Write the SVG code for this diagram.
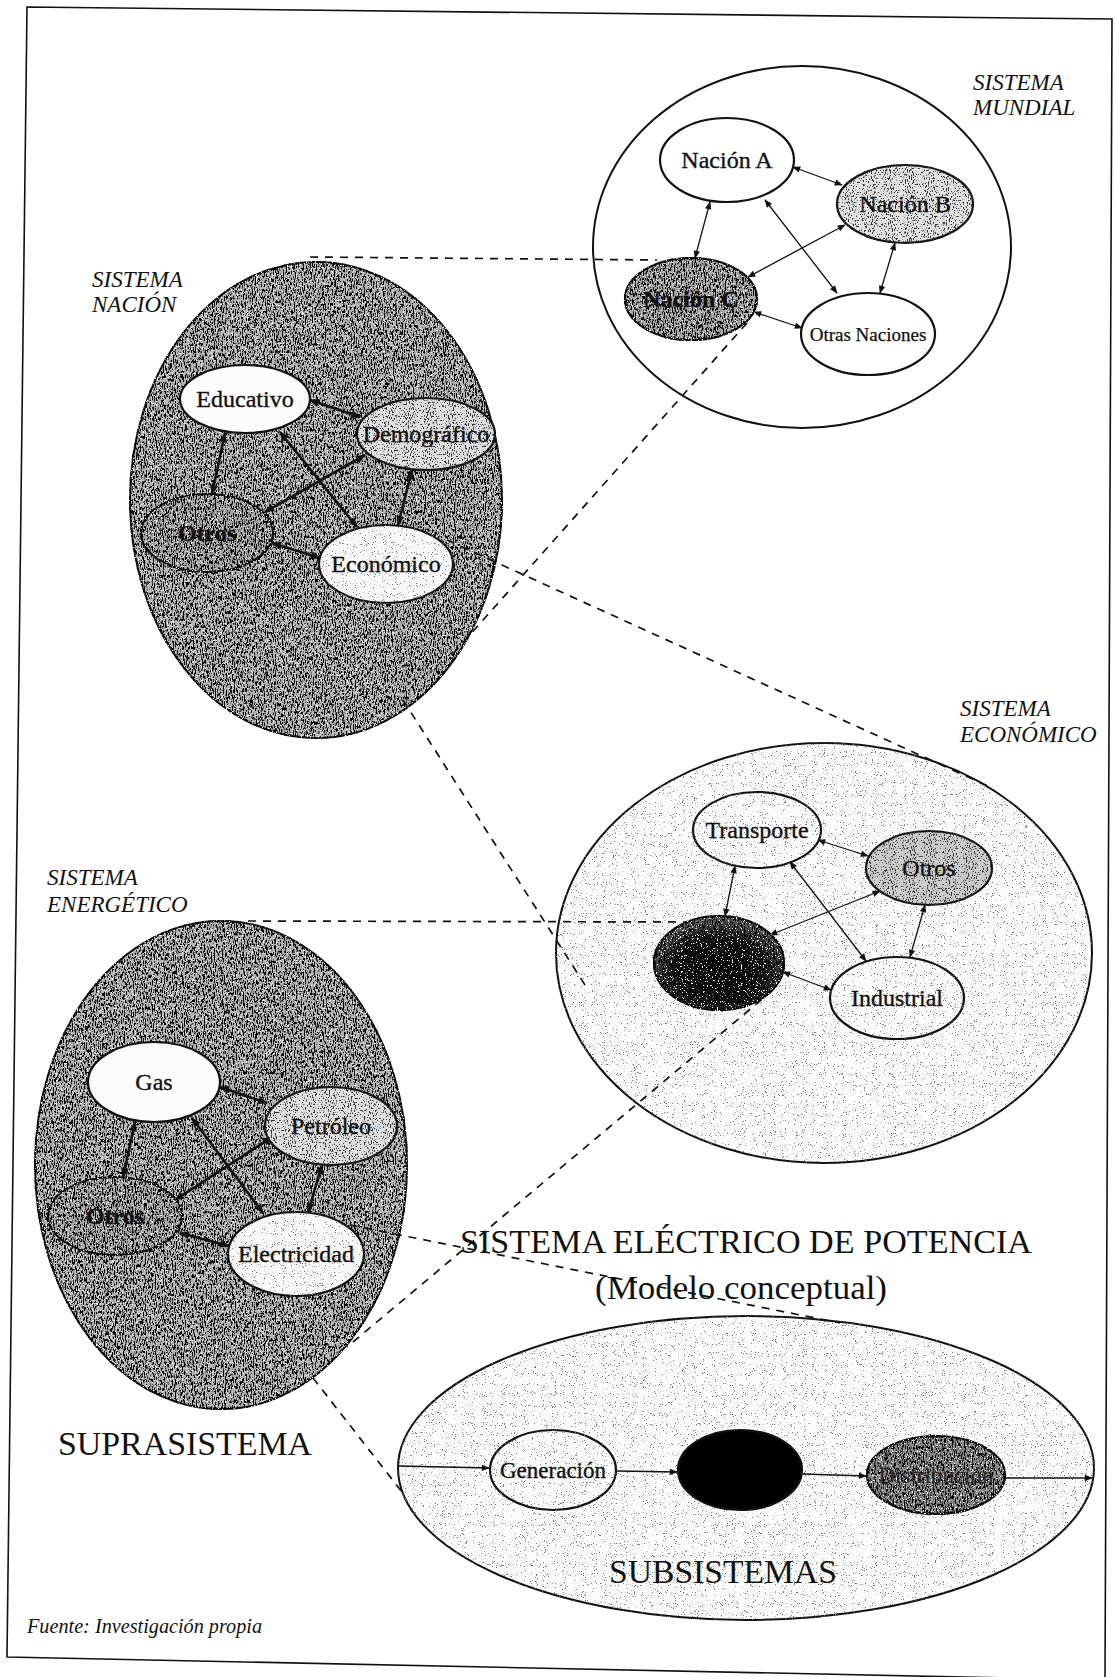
<svg xmlns="http://www.w3.org/2000/svg" width="1115" height="1677" viewBox="0 0 1115 1677">
  <style>
    .frame { fill: none; stroke: #111; stroke-width: 1.6; }
    .sys { stroke: #111; stroke-width: 2; }
    .node { stroke: #111; stroke-width: 2.2; }
    .lbl { font-family: "Liberation Serif", "Times New Roman", serif; font-size: 24px; fill: #111; stroke: #111; stroke-width: 0.35; text-anchor: middle; }
    .bold { font-weight: bold; }
    .ital { font-family: "Liberation Serif", "Times New Roman", serif; font-style: italic; font-size: 23px; fill: #111; }
    .big { font-family: "Liberation Serif", "Times New Roman", serif; font-size: 34px; fill: #111; }
    .dash { fill: none; stroke: #111; stroke-width: 1.7; stroke-dasharray: 8 7; }
    .thin { fill: none; stroke: #111; stroke-width: 1.3; marker-start: url(#ahS); marker-end: url(#ahS); }
    .thick { fill: none; stroke: #111; stroke-width: 2.6; marker-start: url(#ahL); marker-end: url(#ahL); }
    .flow { fill: none; stroke: #111; stroke-width: 1.5; marker-end: url(#ahS); }
  </style>
  <defs>
    <marker id="ahS" viewBox="0 0 10 10" refX="9" refY="5" markerWidth="11" markerHeight="8" markerUnits="userSpaceOnUse" orient="auto-start-reverse">
      <path d="M0,1 L10,5 L0,9 z" fill="#111"/>
    </marker>
    <marker id="ahL" viewBox="0 0 10 10" refX="9" refY="5" markerWidth="14" markerHeight="10" markerUnits="userSpaceOnUse" orient="auto-start-reverse">
      <path d="M0,1 L10,5 L0,9 z" fill="#111"/>
    </marker>
    <!-- stippled screen fills: noise thresholded into specks over a flat tone -->
    <filter id="gDark" x="-5%" y="-5%" width="110%" height="110%" color-interpolation-filters="sRGB">
      <feTurbulence type="fractalNoise" baseFrequency="0.9 0.28" numOctaves="3" seed="4" result="n"/>
      <feColorMatrix in="n" type="matrix" values="0 0 0 0 0  0 0 0 0 0  0 0 0 0 0  9 0 0 0 -4.4" result="dots"/>
      <feComposite in="dots" in2="SourceGraphic" operator="in" result="d"/>
      <feTurbulence type="fractalNoise" baseFrequency="1.2 0.6" numOctaves="2" seed="11" result="n2"/>
      <feColorMatrix in="n2" type="matrix" values="0 0 0 0 1  0 0 0 0 1  0 0 0 0 1  12 0 0 0 -7.6" result="hi"/>
      <feComposite in="hi" in2="SourceGraphic" operator="in" result="h"/>
      <feMerge><feMergeNode in="SourceGraphic"/><feMergeNode in="d"/><feMergeNode in="h"/></feMerge>
    </filter>
    <filter id="gMid" x="-5%" y="-5%" width="110%" height="110%" color-interpolation-filters="sRGB">
      <feTurbulence type="fractalNoise" baseFrequency="0.95 0.5" numOctaves="2" seed="9" result="n"/>
      <feColorMatrix in="n" type="matrix" values="0 0 0 0 0.2  0 0 0 0 0.2  0 0 0 0 0.2  10 0 0 0 -5.6" result="dots"/>
      <feComposite in="dots" in2="SourceGraphic" operator="in" result="d"/>
      <feMerge><feMergeNode in="SourceGraphic"/><feMergeNode in="d"/></feMerge>
    </filter>
    <filter id="gLight" x="-5%" y="-5%" width="110%" height="110%" color-interpolation-filters="sRGB">
      <feTurbulence type="fractalNoise" baseFrequency="1.1 0.9" numOctaves="2" seed="2" result="n"/>
      <feColorMatrix in="n" type="matrix" values="0 0 0 0 0.45  0 0 0 0 0.45  0 0 0 0 0.45  14 0 0 0 -9.3" result="dots"/>
      <feComposite in="dots" in2="SourceGraphic" operator="in" result="d"/>
      <feMerge><feMergeNode in="SourceGraphic"/><feMergeNode in="d"/></feMerge>
    </filter>
    <radialGradient id="coreDark" cx="50%" cy="58%" r="55%">
      <stop offset="0" stop-color="#000"/>
      <stop offset="0.65" stop-color="#151515"/>
      <stop offset="1" stop-color="#606060"/>
    </radialGradient>
  </defs>

  <rect width="1115" height="1677" fill="#fff"/>
  <polygon class="frame" points="27,7 1112,19 1105,1680 7,1657"/>

  <!-- system boundaries -->
  <g id="sistema-mundial">
    <ellipse class="sys" cx="802" cy="247" rx="209" ry="181" fill="#fff"/>
    <text class="ital" x="973" y="90">SISTEMA</text>
    <text class="ital" x="973" y="115">MUNDIAL</text>
  </g>
  <g id="sistema-nacion">
    <ellipse class="sys" cx="316" cy="500" rx="186" ry="238" fill="#b4b4b4" filter="url(#gDark)"/>
    <text class="ital" x="92" y="287">SISTEMA</text>
    <text class="ital" x="92" y="312">NACIÓN</text>
  </g>
  <g id="sistema-economico">
    <ellipse class="sys" cx="824" cy="953" rx="268" ry="210" fill="#fbfbfb" filter="url(#gLight)"/>
    <text class="ital" x="960" y="716">SISTEMA</text>
    <text class="ital" x="960" y="742">ECONÓMICO</text>
  </g>
  <g id="sistema-energetico">
    <ellipse class="sys" cx="221" cy="1165" rx="186" ry="244" fill="#b4b4b4" filter="url(#gDark)"/>
    <text class="ital" x="47" y="885">SISTEMA</text>
    <text class="ital" x="47" y="912">ENERGÉTICO</text>
  </g>
  <g id="subsistemas">
    <ellipse class="sys" cx="746" cy="1468" rx="348" ry="152" fill="#fbfbfb" filter="url(#gLight)"/>
    <text class="big" x="609" y="1583" textLength="228" lengthAdjust="spacingAndGlyphs">SUBSISTEMAS</text>
  </g>

  <!-- zoom links between levels and relations inside each system -->
  <g id="connectors">
    <line class="dash" x1="310" y1="257" x2="657" y2="260"/>
    <line class="dash" x1="747" y1="323" x2="452" y2="655"/>
    <line class="dash" x1="447" y1="540" x2="990" y2="787"/>
    <line class="dash" x1="403" y1="700" x2="585" y2="985"/>
    <line class="dash" x1="248" y1="921" x2="690" y2="922"/>
    <line class="dash" x1="773" y1="990" x2="347" y2="1347"/>
    <line class="dash" x1="335" y1="1222" x2="840" y2="1323"/>
    <line class="dash" x1="313" y1="1378" x2="402" y2="1492"/>

    <line class="thin" x1="793" y1="167" x2="842" y2="185"/>
    <line class="thin" x1="710" y1="202" x2="695" y2="258"/>
    <line class="thin" x1="765" y1="200" x2="837" y2="293"/>
    <line class="thin" x1="845" y1="225" x2="748" y2="277"/>
    <line class="thin" x1="895" y1="243" x2="880" y2="293"/>
    <line class="thin" x1="754" y1="312" x2="802" y2="328"/>

    <line class="thick" x1="310" y1="400" x2="360" y2="417"/>
    <line class="thick" x1="225" y1="433" x2="212" y2="494"/>
    <line class="thick" x1="280" y1="432" x2="357" y2="527"/>
    <line class="thick" x1="365" y1="455" x2="265" y2="512"/>
    <line class="thick" x1="412" y1="470" x2="398" y2="525"/>
    <line class="thick" x1="272" y1="543" x2="320" y2="558"/>

    <line class="thin" x1="818" y1="840" x2="868" y2="856"/>
    <line class="thin" x1="735" y1="866" x2="725" y2="916"/>
    <line class="thin" x1="790" y1="862" x2="866" y2="961"/>
    <line class="thin" x1="880" y1="891" x2="770" y2="935"/>
    <line class="thin" x1="925" y1="905" x2="910" y2="957"/>
    <line class="thin" x1="783" y1="972" x2="831" y2="990"/>

    <line class="thick" x1="220" y1="1087" x2="267" y2="1103"/>
    <line class="thick" x1="135" y1="1122" x2="123" y2="1177"/>
    <line class="thick" x1="192" y1="1118" x2="263" y2="1213"/>
    <line class="thick" x1="272" y1="1137" x2="175" y2="1200"/>
    <line class="thick" x1="322" y1="1165" x2="308" y2="1212"/>
    <line class="thick" x1="180" y1="1233" x2="229" y2="1246"/>

    <line class="flow" x1="398" y1="1466" x2="489" y2="1468"/>
    <line class="flow" x1="617" y1="1471" x2="677" y2="1472"/>
    <line class="flow" x1="803" y1="1474" x2="866" y2="1476"/>
    <line class="flow" x1="1005" y1="1478" x2="1092" y2="1478"/>
  </g>

  <!-- world system members -->
  <g id="nacion-a">
    <ellipse class="node" cx="727" cy="160" rx="67" ry="42" fill="#fff"/>
    <text class="lbl" x="727" y="168">Nación A</text>
  </g>
  <g id="nacion-b">
    <ellipse class="node" cx="905" cy="204" rx="68" ry="39" fill="#e2e2e2" filter="url(#gMid)"/>
    <text class="lbl" x="905" y="212">Nación B</text>
  </g>
  <g id="nacion-c">
    <ellipse class="node" cx="691" cy="299" rx="66" ry="41" fill="#a8a8a8" filter="url(#gDark)"/>
    <text class="lbl bold" x="691" y="307">Nación C</text>
  </g>
  <g id="otras-naciones">
    <ellipse class="node" cx="868" cy="334" rx="67" ry="41" fill="#fff"/>
    <text class="lbl" x="868" y="341" style="font-size:19px;stroke-width:0.25">Otras Naciones</text>
  </g>

  <!-- nation subsystems -->
  <g id="educativo">
    <ellipse class="node" cx="245" cy="399" rx="65" ry="34" fill="#fcfcfc"/>
    <text class="lbl" x="245" y="407">Educativo</text>
  </g>
  <g id="demografico">
    <ellipse class="node" cx="426" cy="434" rx="69" ry="36" fill="#e0e0e0" filter="url(#gMid)"/>
    <text class="lbl" x="426" y="442">Demográfico</text>
  </g>
  <g id="otros-nacion">
    <ellipse class="node" cx="207" cy="533" rx="66" ry="39" fill="#a8a8a8" filter="url(#gDark)"/>
    <text class="lbl bold" x="207" y="541">Otros</text>
  </g>
  <g id="economico">
    <ellipse class="node" cx="386" cy="564" rx="67" ry="39" fill="#f8f8f8" filter="url(#gLight)"/>
    <text class="lbl" x="386" y="572">Económico</text>
  </g>

  <!-- economic subsystems -->
  <g id="transporte">
    <ellipse class="node" cx="757" cy="830" rx="64" ry="38" fill="#fbfbfb" filter="url(#gLight)"/>
    <text class="lbl" x="757" y="838">Transporte</text>
  </g>
  <g id="otros-economico">
    <ellipse class="node" cx="929" cy="868" rx="63" ry="37" fill="#cccccc" filter="url(#gMid)"/>
    <text class="lbl" x="929" y="876">Otros</text>
  </g>
  <g id="energetico">
    <ellipse class="node" cx="719" cy="963" rx="65" ry="47" fill="url(#coreDark)" filter="url(#gDark)"/>
  </g>
  <g id="industrial">
    <ellipse class="node" cx="897" cy="998" rx="67" ry="41" fill="#fbfbfb" filter="url(#gLight)"/>
    <text class="lbl" x="897" y="1006">Industrial</text>
  </g>

  <!-- energy subsystems -->
  <g id="gas">
    <ellipse class="node" cx="154" cy="1082" rx="66" ry="40" fill="#fcfcfc"/>
    <text class="lbl" x="154" y="1090">Gas</text>
  </g>
  <g id="petroleo">
    <ellipse class="node" cx="331" cy="1126" rx="66" ry="39" fill="#e0e0e0" filter="url(#gMid)"/>
    <text class="lbl" x="331" y="1134">Petróleo</text>
  </g>
  <g id="otros-energetico">
    <ellipse class="node" cx="115" cy="1216" rx="67" ry="39" fill="#a8a8a8" filter="url(#gDark)"/>
    <text class="lbl bold" x="115" y="1224">Otros</text>
  </g>
  <g id="electricidad">
    <ellipse class="node" cx="296" cy="1254" rx="68" ry="42" fill="#f8f8f8" filter="url(#gLight)"/>
    <text class="lbl" x="296" y="1262">Electricidad</text>
  </g>

  <!-- power system chain -->
  <g id="generacion">
    <ellipse class="node" cx="553" cy="1470" rx="63" ry="40" fill="#fbfbfb" filter="url(#gLight)"/>
    <text class="lbl" x="553" y="1478" style="font-size:23px">Generación</text>
  </g>
  <g id="transmision">
    <ellipse class="node" cx="740" cy="1470" rx="62" ry="40" fill="#000"/>
  </g>
  <g id="distribucion">
    <ellipse class="node" cx="936" cy="1475" rx="69" ry="39" fill="#8a8a8a" filter="url(#gDark)"/>
    <text class="lbl" x="936" y="1483" style="font-size:23px;fill:#2a2a2a;stroke:none">Distribución</text>
  </g>

  <!-- titles -->
  <g id="titulos">
    <text class="big" x="460" y="1253" textLength="572" lengthAdjust="spacingAndGlyphs">SISTEMA ELÉCTRICO DE POTENCIA</text>
    <text class="big" x="595" y="1299" textLength="292" lengthAdjust="spacingAndGlyphs">(Modelo conceptual)</text>
    <text class="big" x="58" y="1455" textLength="254" lengthAdjust="spacingAndGlyphs">SUPRASISTEMA</text>
    <text class="ital" x="27" y="1633" style="font-size:20px" textLength="235" lengthAdjust="spacingAndGlyphs">Fuente:  Investigación propia</text>
  </g>
</svg>
